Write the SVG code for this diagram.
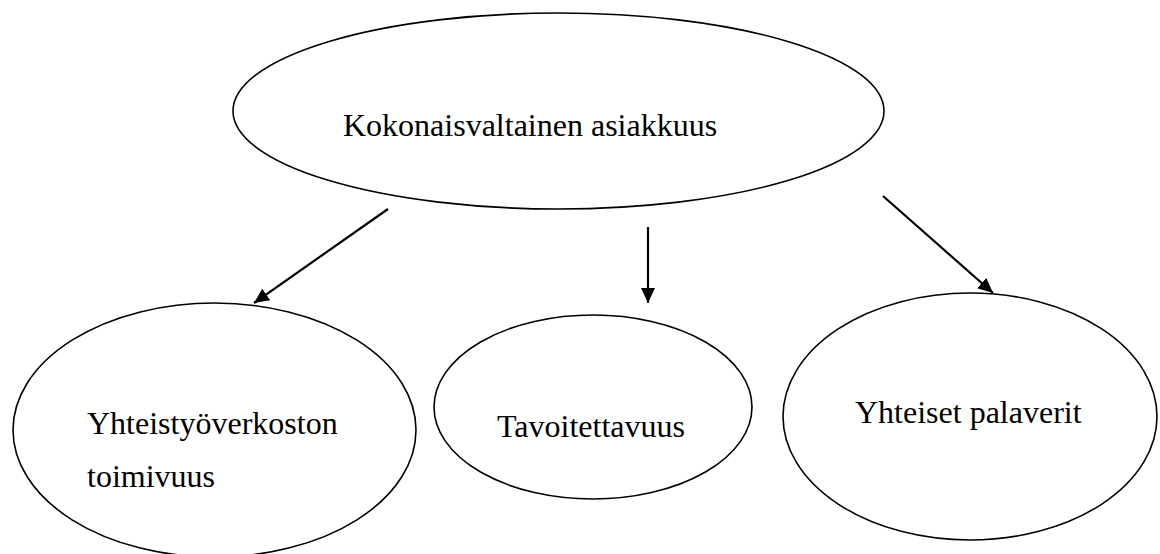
<svg xmlns="http://www.w3.org/2000/svg" width="1160" height="554" viewBox="0 0 1160 554">
<style>
.node ellipse{fill:#fff;stroke:#000;stroke-width:1.6}
.node text{font-family:"Liberation Serif","Times New Roman",serif;font-size:32px;fill:#000}
.edge{stroke:#000;stroke-width:2.2;fill:none;marker-end:url(#arr)}
</style>
<defs>
<marker id="arr" markerUnits="userSpaceOnUse" markerWidth="16" markerHeight="14" refX="15" refY="7" orient="auto">
<path d="M0,0 L15,7 L0,14 z" fill="#000"/>
</marker>
</defs>
<rect width="1160" height="554" fill="#fff"/>
<g id="n-top" class="node">
<ellipse cx="558.5" cy="111" rx="325.5" ry="98"/>
<text x="343" y="136">Kokonaisvaltainen asiakkuus</text>
</g>
<g id="n-left" class="node">
<ellipse cx="214.5" cy="430" rx="201.5" ry="127"/>
<text x="87" y="434">Yhteistyöverkoston</text>
<text x="87" y="487">toimivuus</text>
</g>
<g id="n-mid" class="node">
<ellipse cx="593" cy="407" rx="159" ry="92"/>
<text x="497" y="437">Tavoitettavuus</text>
</g>
<g id="n-right" class="node">
<ellipse cx="970" cy="416.5" rx="187" ry="123.5"/>
<text x="855" y="423">Yhteiset palaverit</text>
</g>
<g id="connectors">
<line class="edge" x1="388" y1="209" x2="254" y2="303"/>
<line class="edge" x1="648" y1="227" x2="648" y2="303"/>
<line class="edge" x1="883" y1="196" x2="993" y2="293"/>
</g>
</svg>
